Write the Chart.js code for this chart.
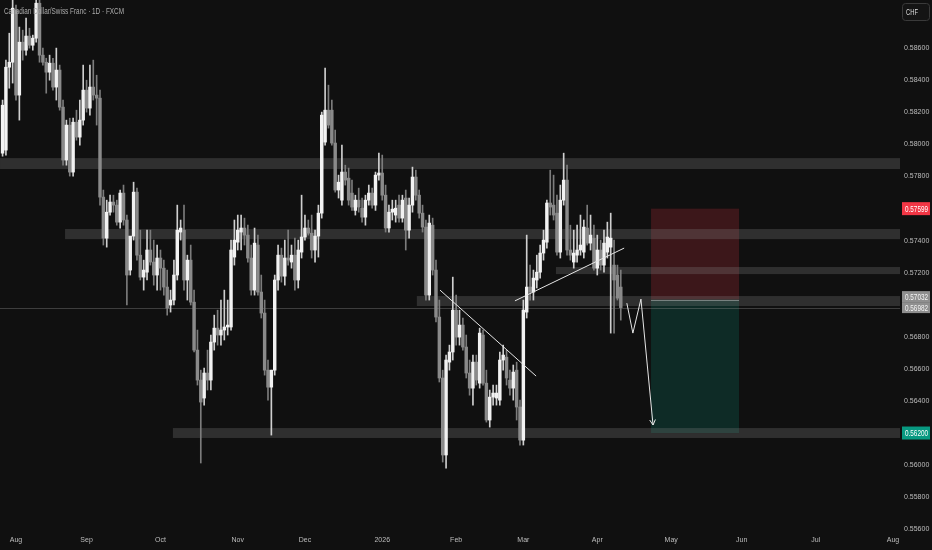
<!DOCTYPE html>
<html lang="en">
<head>
    <meta charset="UTF-8">
    <title>CADCHF 1D</title>
    <script src="https://cdn.jsdelivr.net/npm/chart.js"></script>
    <style>
        html, body {
            margin: 0;
            padding: 0;
            background-color: #101010;
        }

        #wrap {
            width: 932px;
            height: 550px;
        }
    </style>
</head>
<body>
    <div id="wrap"><canvas id="cadchf" width="932" height="550"></canvas></div>

    <script>
        // Daily candles, first one sits 4 trading days before 1 Aug 2025
        const firstBar = -4;

        const opens = [
            0.57945, 0.57964, 0.58481, 0.58512, 0.58837, 0.58307, 0.58637, 0.58587, 0.58675, 0.58618,
            0.58662, 0.58880, 0.58556, 0.58512, 0.58450, 0.58506, 0.58357, 0.58463, 0.58232, 0.57902,
            0.58120, 0.57827, 0.58138, 0.58045, 0.58151, 0.58338, 0.58226, 0.58357, 0.58307, 0.58288,
            0.57671, 0.57415, 0.57577, 0.57640, 0.57621, 0.57515, 0.57696, 0.57528, 0.57216, 0.57428,
            0.57702, 0.57309, 0.57172, 0.57203, 0.57341, 0.57266, 0.57185, 0.57291, 0.57228, 0.57110,
            0.56998, 0.57029, 0.57185, 0.57453, 0.57465, 0.57154, 0.57278, 0.57016, 0.56717, 0.56530,
            0.56418, 0.56574, 0.56530, 0.56767, 0.56854, 0.56811, 0.56842, 0.56861, 0.56861, 0.57297,
            0.57390, 0.57453, 0.57478, 0.57434, 0.57291, 0.57091, 0.57372, 0.57079, 0.56948, 0.56592,
            0.56486, 0.56592, 0.57154, 0.57309, 0.57178, 0.57291, 0.57266, 0.57309, 0.57154, 0.57328,
            0.57422, 0.57478, 0.57446, 0.57341, 0.57428, 0.57571, 0.58014, 0.58213, 0.58213, 0.58008,
            0.57715, 0.57652, 0.57827, 0.57789, 0.57696, 0.57588, 0.57652, 0.57602, 0.57546, 0.57652,
            0.57696, 0.57621, 0.57808, 0.57821, 0.57683, 0.57478, 0.57577, 0.57559, 0.57621, 0.57540,
            0.57665, 0.57465, 0.57621, 0.57796, 0.57683, 0.57571, 0.57484, 0.57060, 0.57496, 0.57216,
            0.56923, 0.56543, 0.56063, 0.56642, 0.56705, 0.56966, 0.56798, 0.56873, 0.56736, 0.56574,
            0.56480, 0.56642, 0.56511, 0.56811, 0.56511, 0.56281, 0.56424, 0.56418, 0.56405, 0.56655,
            0.56673, 0.56530, 0.56480, 0.56592, 0.56362, 0.56156, 0.56954, 0.57110, 0.57079, 0.57154,
            0.57203, 0.57322, 0.57390, 0.57634, 0.57621, 0.57571, 0.57328, 0.57652, 0.57777, 0.57341,
            0.57266, 0.57309, 0.57341, 0.57328, 0.57478, 0.57384, 0.57415, 0.57228, 0.57341, 0.57247,
            0.57328, 0.57359, 0.57247, 0.57185, 0.57110
        ];

        const highs = [
            0.58276, 0.58525, 0.58693, 0.58899, 0.58868, 0.58731, 0.58712, 0.58787, 0.58724, 0.58681,
            0.58899, 0.58899, 0.58600, 0.58537, 0.58556, 0.58537, 0.58600, 0.58494, 0.58276, 0.58151,
            0.58163, 0.58163, 0.58213, 0.58276, 0.58494, 0.58400, 0.58494, 0.58525, 0.58431, 0.58338,
            0.57715, 0.57652, 0.57683, 0.57683, 0.57652, 0.57715, 0.57746, 0.57559, 0.57403, 0.57764,
            0.57727, 0.57465, 0.57278, 0.57465, 0.57465, 0.57403, 0.57372, 0.57341, 0.57278, 0.57216,
            0.57091, 0.57278, 0.57621, 0.57528, 0.57621, 0.57309, 0.57372, 0.57091, 0.56842, 0.56592,
            0.56605, 0.56717, 0.56811, 0.56935, 0.56966, 0.57029, 0.57091, 0.57029, 0.57403, 0.57528,
            0.57559, 0.57559, 0.57540, 0.57496, 0.57372, 0.57478, 0.57434, 0.57185, 0.57029, 0.56655,
            0.56592, 0.57185, 0.57372, 0.57353, 0.57403, 0.57465, 0.57372, 0.57415, 0.57403, 0.57683,
            0.57559, 0.57528, 0.57559, 0.57465, 0.57621, 0.58201, 0.58475, 0.58369, 0.58276, 0.58089,
            0.57808, 0.57995, 0.57870, 0.57852, 0.57777, 0.57683, 0.57727, 0.57665, 0.57683, 0.57746,
            0.57727, 0.57827, 0.57945, 0.57933, 0.57746, 0.57621, 0.57652, 0.57652, 0.57683, 0.57683,
            0.57715, 0.57665, 0.57858, 0.57839, 0.57715, 0.57621, 0.57528, 0.57559, 0.57540, 0.57278,
            0.57029, 0.56592, 0.56686, 0.56748, 0.57172, 0.57060, 0.56966, 0.56917, 0.56811, 0.56655,
            0.56686, 0.56686, 0.56854, 0.56842, 0.56592, 0.56468, 0.56499, 0.56499, 0.56705, 0.56748,
            0.56717, 0.56592, 0.56624, 0.56642, 0.56405, 0.57029, 0.57434, 0.57247, 0.57216, 0.57309,
            0.57372, 0.57465, 0.57652, 0.57839, 0.57808, 0.57683, 0.57746, 0.57945, 0.57870, 0.57496,
            0.57465, 0.57496, 0.57559, 0.57528, 0.57621, 0.57559, 0.57496, 0.57434, 0.57403, 0.57465,
            0.57515, 0.57571, 0.57403, 0.57247, 0.57216
        ];

        const lows = [
            0.57926, 0.57933, 0.58350, 0.58382, 0.58276, 0.58151, 0.58525, 0.58556, 0.58600, 0.58587,
            0.58637, 0.58512, 0.58494, 0.58319, 0.58400, 0.58338, 0.58276, 0.58213, 0.57870, 0.57870,
            0.57802, 0.57802, 0.58026, 0.57995, 0.58120, 0.58201, 0.58182, 0.58276, 0.58120, 0.57621,
            0.57372, 0.57359, 0.57559, 0.57577, 0.57496, 0.57478, 0.57496, 0.56998, 0.57185, 0.57403,
            0.57278, 0.57154, 0.57091, 0.57154, 0.57247, 0.57122, 0.57091, 0.57091, 0.57060, 0.56935,
            0.56954, 0.56998, 0.57154, 0.57403, 0.57091, 0.57029, 0.56998, 0.56705, 0.56499, 0.56013,
            0.56374, 0.56468, 0.56468, 0.56717, 0.56748, 0.56748, 0.56780, 0.56811, 0.56842, 0.57247,
            0.57341, 0.57341, 0.57372, 0.57266, 0.57060, 0.57060, 0.57060, 0.56917, 0.56561, 0.56405,
            0.56187, 0.56561, 0.57091, 0.57141, 0.57122, 0.57247, 0.57228, 0.57091, 0.57104, 0.57291,
            0.57403, 0.57434, 0.57291, 0.57266, 0.57297, 0.57540, 0.57995, 0.58101, 0.57995, 0.57702,
            0.57665, 0.57621, 0.57746, 0.57621, 0.57588, 0.57559, 0.57577, 0.57515, 0.57496, 0.57621,
            0.57602, 0.57588, 0.57777, 0.57652, 0.57453, 0.57453, 0.57528, 0.57515, 0.57515, 0.57515,
            0.57341, 0.57415, 0.57577, 0.57652, 0.57540, 0.57453, 0.57029, 0.57029, 0.57185, 0.56892,
            0.56518, 0.56019, 0.55981, 0.56592, 0.56655, 0.56748, 0.56748, 0.56717, 0.56543, 0.56436,
            0.56374, 0.56499, 0.56480, 0.56499, 0.56268, 0.56237, 0.56374, 0.56374, 0.56374, 0.56592,
            0.56499, 0.56436, 0.56405, 0.56281, 0.56125, 0.56125, 0.56917, 0.57029, 0.57029, 0.57104,
            0.57166, 0.57278, 0.57353, 0.57559, 0.57528, 0.57309, 0.57291, 0.57621, 0.57309, 0.57278,
            0.57228, 0.57266, 0.57309, 0.57291, 0.57372, 0.57341, 0.57216, 0.57185, 0.57216, 0.57203,
            0.57291, 0.56823, 0.56823, 0.57029, 0.56904
        ];

        const closes = [
            0.58244, 0.58481, 0.58512, 0.58849, 0.58307, 0.58637, 0.58587, 0.58675, 0.58618, 0.58662,
            0.58880, 0.58556, 0.58512, 0.58450, 0.58506, 0.58357, 0.58463, 0.58232, 0.57902, 0.58120,
            0.57827, 0.58138, 0.58045, 0.58151, 0.58338, 0.58226, 0.58357, 0.58307, 0.58288, 0.57671,
            0.57415, 0.57577, 0.57640, 0.57621, 0.57515, 0.57696, 0.57528, 0.57185, 0.57428, 0.57702,
            0.57309, 0.57172, 0.57216, 0.57341, 0.57266, 0.57185, 0.57291, 0.57228, 0.57110, 0.56979,
            0.57029, 0.57185, 0.57465, 0.57478, 0.57154, 0.57278, 0.57016, 0.56717, 0.56530, 0.56393,
            0.56574, 0.56530, 0.56767, 0.56854, 0.56811, 0.56842, 0.56861, 0.56873, 0.57341, 0.57403,
            0.57465, 0.57478, 0.57434, 0.57291, 0.57091, 0.57384, 0.57079, 0.56948, 0.56592, 0.56486,
            0.56592, 0.57154, 0.57309, 0.57178, 0.57291, 0.57278, 0.57309, 0.57154, 0.57341, 0.57422,
            0.57478, 0.57446, 0.57341, 0.57428, 0.57571, 0.58182, 0.58213, 0.58120, 0.58008, 0.57715,
            0.57764, 0.57827, 0.57777, 0.57652, 0.57609, 0.57652, 0.57609, 0.57546, 0.57652, 0.57696,
            0.57621, 0.57808, 0.57821, 0.57683, 0.57478, 0.57577, 0.57596, 0.57602, 0.57540, 0.57652,
            0.57465, 0.57621, 0.57796, 0.57683, 0.57571, 0.57484, 0.57060, 0.57509, 0.57216, 0.56923,
            0.56543, 0.56063, 0.56655, 0.56705, 0.56966, 0.56798, 0.56873, 0.56736, 0.56574, 0.56480,
            0.56642, 0.56530, 0.56823, 0.56511, 0.56281, 0.56424, 0.56449, 0.56449, 0.56655, 0.56686,
            0.56543, 0.56480, 0.56580, 0.56362, 0.56156, 0.56966, 0.57110, 0.57079, 0.57166, 0.57203,
            0.57322, 0.57403, 0.57634, 0.57609, 0.57559, 0.57328, 0.57652, 0.57777, 0.57341, 0.57309,
            0.57322, 0.57341, 0.57372, 0.57484, 0.57384, 0.57434, 0.57228, 0.57341, 0.57247, 0.57384,
            0.57422, 0.57415, 0.57154, 0.57041, 0.56982
        ];

        // Time axis: trading-day index of each month start
        const monthLabels = ['Aug', 'Sep', 'Oct', 'Nov', 'Dec', '2026', 'Feb', 'Mar', 'Apr', 'May', 'Jun', 'Jul', 'Aug'];
        const monthTickAt = [0, 21, 43, 66, 86, 109, 131, 151, 173, 195, 216, 238, 261];

        // Price axis ticks (0.576 / 0.570 / 0.562 are covered by the tag labels)
        const priceTicks = [0.586, 0.584, 0.582, 0.580, 0.578, 0.574, 0.572, 0.568, 0.566, 0.564, 0.560, 0.558, 0.556];

        // Support / resistance zones
        const zoneFrom = [-4.76, 14.6, 160.7, 119.3, 46.7];
        const zoneLow = [0.57846, 0.57409, 0.57191, 0.56992, 0.56169];
        const zoneHigh = [0.57914, 0.57472, 0.57235, 0.57054, 0.56231];

        // Trend lines and the projected path
        const downLineX = [126.2, 154.8];
        const downLineY = [0.57091, 0.56555];
        const upLineX = [148.5, 181.0];
        const upLineY = [0.57024, 0.57353];
        const pathX = [181.8, 183.6, 186.0, 189.6];
        const pathY = [0.57010, 0.56823, 0.57035, 0.56250];

        // Short position tool
        const posFrom = 189;
        const posTo = 215.2;
        const stopPrice = 0.57599;
        const entryPrice = 0.57032;
        const targetPrice = 0.56200;
        const lastPrice = 0.56982;

        const xMin = -4.762;
        const xMax = 263.1;
        const yMin = 0.555953;
        const yMax = 0.58900;

        const axisFont = "'Liberation Sans', Arial, sans-serif";

        const barX = opens.map((o, k) => firstBar + k);
        const isUp = closes.map((c, k) => c >= opens[k]);

        const toPoints = (xs, ys) => xs.map((x, k) => ({ x: x, y: ys[k] }));

        // Text squeezed to the narrow width TradingView uses
        function narrowText(ctx, text, x, y, width) {
            const w = ctx.measureText(text).width;
            ctx.save();
            ctx.translate(x, y);
            ctx.scale(width / w, 1);
            ctx.fillText(text, 0, 0);
            ctx.restore();
        }

        // Paint background, zones and the position boxes under the candles
        const backdrop = {
            id: 'backdrop',
            beforeDraw(chart) {
                const ctx = chart.ctx;
                ctx.save();
                ctx.fillStyle = '#101010';
                ctx.fillRect(0, 0, chart.width, chart.height);
                ctx.restore();
            },
            beforeDatasetsDraw(chart) {
                const { ctx, chartArea, scales: { x, y } } = chart;
                ctx.save();
                ctx.beginPath();
                ctx.rect(chartArea.left, chartArea.top, chartArea.right - chartArea.left, chartArea.bottom - chartArea.top);
                ctx.clip();

                // position boxes
                const bx0 = x.getPixelForValue(posFrom);
                const bx1 = x.getPixelForValue(posTo);
                const yStop = y.getPixelForValue(stopPrice);
                const yEntry = y.getPixelForValue(entryPrice);
                const yTarget = y.getPixelForValue(targetPrice);
                ctx.fillStyle = 'rgba(242, 54, 69, 0.2)';
                ctx.fillRect(bx0, yStop, bx1 - bx0, yEntry - yStop);
                ctx.fillStyle = 'rgba(8, 153, 129, 0.2)';
                ctx.fillRect(bx0, yEntry, bx1 - bx0, yTarget - yEntry);
                ctx.strokeStyle = 'rgba(200, 200, 200, 0.55)';
                ctx.lineWidth = 1;
                ctx.beginPath();
                ctx.moveTo(bx0, Math.round(yEntry) + 0.5);
                ctx.lineTo(bx1, Math.round(yEntry) + 0.5);
                ctx.stroke();

                // zones
                ctx.fillStyle = 'rgba(128, 128, 128, 0.28)';
                zoneFrom.forEach((from, k) => {
                    const zx = x.getPixelForValue(from);
                    const top = y.getPixelForValue(zoneHigh[k]);
                    const bottom = y.getPixelForValue(zoneLow[k]);
                    ctx.fillRect(zx, top, chartArea.right - zx, bottom - top);
                });

                // last price line
                const yLast = Math.round(y.getPixelForValue(lastPrice)) + 0.5;
                ctx.strokeStyle = 'rgba(150, 150, 150, 0.35)';
                ctx.beginPath();
                ctx.moveTo(chartArea.left, yLast);
                ctx.lineTo(chartArea.right, yLast);
                ctx.stroke();
                ctx.restore();
            }
        };

        // Arrow head, price tags, currency button and symbol title
        const overlay = {
            id: 'overlay',
            afterDraw(chart) {
                const { ctx, chartArea, scales: { x, y } } = chart;
                ctx.save();

                // arrow head at the end of the projected path
                const n = pathX.length;
                const ax = x.getPixelForValue(pathX[n - 1]);
                const ay = y.getPixelForValue(pathY[n - 1]);
                const px = x.getPixelForValue(pathX[n - 2]);
                const py = y.getPixelForValue(pathY[n - 2]);
                const ang = Math.atan2(ay - py, ax - px);
                ctx.strokeStyle = '#e6e6e6';
                ctx.lineWidth = 1;
                ctx.beginPath();
                ctx.moveTo(ax - 6 * Math.cos(ang - 0.5), ay - 6 * Math.sin(ang - 0.5));
                ctx.lineTo(ax, ay);
                ctx.lineTo(ax - 6 * Math.cos(ang + 0.5), ay - 6 * Math.sin(ang + 0.5));
                ctx.stroke();

                // price tags on the right axis
                const tagX = chartArea.right + 2;
                const tagW = 28;
                ctx.font = '9px ' + axisFont;
                ctx.textAlign = 'left';
                ctx.textBaseline = 'middle';
                const drawTag = (cy, h, bg, fg, text) => {
                    ctx.fillStyle = bg;
                    ctx.fillRect(tagX, cy - h / 2, tagW, h);
                    ctx.fillStyle = fg;
                    narrowText(ctx, text, tagX + 3, cy + 0.5, 23);
                };
                drawTag(y.getPixelForValue(stopPrice), 13, '#f23645', '#ffffff', stopPrice.toFixed(5));
                let yE = y.getPixelForValue(entryPrice);
                const yL = y.getPixelForValue(lastPrice);
                if (yL - yE < 11) {
                    yE = yL - 11;
                }
                drawTag(yE, 11, '#8f8f8f', '#f4f4f4', entryPrice.toFixed(5));
                drawTag(yL, 11, '#8f8f8f', '#f4f4f4', lastPrice.toFixed(5));
                drawTag(y.getPixelForValue(targetPrice), 13, '#089981', '#ffffff', targetPrice.toFixed(5));

                // currency button
                ctx.strokeStyle = '#3a3a3a';
                ctx.fillStyle = '#141414';
                ctx.beginPath();
                ctx.roundRect(902.5, 3.5, 27, 17, 3);
                ctx.fill();
                ctx.stroke();
                ctx.fillStyle = '#dcdcdc';
                narrowText(ctx, 'CHF', 906, 12.5, 12);

                // symbol title
                ctx.fillStyle = '#ababab';
                narrowText(ctx, 'Canadian Dollar/Swiss Franc \u00b7 1D \u00b7 FXCM', 4, 11.5, 120);
                ctx.restore();
            }
        };

        const ctx = document.getElementById('cadchf').getContext('2d');
        new Chart(ctx, {
            type: 'bar',
            data: {
                datasets: [
                    {
                        type: 'line',
                        label: 'Falling trend line',
                        data: toPoints(downLineX, downLineY),
                        borderColor: '#e6e6e6',
                        borderWidth: 1,
                        pointRadius: 0,
                        order: 0
                    },
                    {
                        type: 'line',
                        label: 'Rising trend line',
                        data: toPoints(upLineX, upLineY),
                        borderColor: '#e6e6e6',
                        borderWidth: 1,
                        pointRadius: 0,
                        order: 0
                    },
                    {
                        type: 'line',
                        label: 'Projected path',
                        data: toPoints(pathX, pathY),
                        borderColor: '#e6e6e6',
                        borderWidth: 1,
                        pointRadius: 0,
                        tension: 0,
                        order: 0
                    },
                    {
                        label: 'Body',
                        data: barX.map((x, k) => ({ x: x, y: [opens[k], closes[k]] })),
                        backgroundColor: isUp.map(u => u ? '#f2f2f2' : '#8a8a8a'),
                        barThickness: 2.8,
                        minBarLength: 1,
                        grouped: false,
                        order: 1
                    },
                    {
                        label: 'Wick',
                        data: barX.map((x, k) => ({ x: x, y: [lows[k], highs[k]] })),
                        backgroundColor: isUp.map(u => u ? '#cfcfcf' : '#7c7c7c'),
                        barThickness: 1,
                        grouped: false,
                        order: 2
                    }
                ]
            },
            options: {
                responsive: false,
                animation: false,
                layout: { padding: 0 },
                plugins: {
                    legend: { display: false },
                    tooltip: { enabled: false }
                },
                scales: {
                    x: {
                        type: 'linear',
                        min: xMin,
                        max: xMax,
                        offset: false,
                        grid: { display: false, drawTicks: false },
                        border: { display: false },
                        afterBuildTicks: (scale) => {
                            scale.ticks = monthTickAt.map(v => ({ value: v }));
                        },
                        afterFit: (scale) => {
                            scale.height = 20;
                            scale.paddingLeft = 0;
                            scale.paddingRight = 0;
                        },
                        ticks: {
                            autoSkip: false,
                            maxRotation: 0,
                            padding: 6,
                            color: '#bdbdbd',
                            font: { family: axisFont, size: 7 },
                            callback: (value) => {
                                const k = monthTickAt.indexOf(value);
                                return k >= 0 ? monthLabels[k] : '';
                            }
                        }
                    },
                    y: {
                        type: 'linear',
                        position: 'right',
                        min: yMin,
                        max: yMax,
                        grid: { display: false, drawTicks: false },
                        border: { display: false },
                        afterBuildTicks: (scale) => {
                            scale.ticks = priceTicks.map(v => ({ value: v }));
                        },
                        afterFit: (scale) => {
                            scale.width = 32;
                            scale.paddingTop = 0;
                            scale.paddingBottom = 0;
                        },
                        ticks: {
                            autoSkip: false,
                            padding: 4,
                            color: '#bdbdbd',
                            font: { family: axisFont, size: 7 },
                            callback: (value) => Number(value).toFixed(5)
                        }
                    }
                }
            },
            plugins: [backdrop, overlay]
        });
    </script>
</body>
</html>
